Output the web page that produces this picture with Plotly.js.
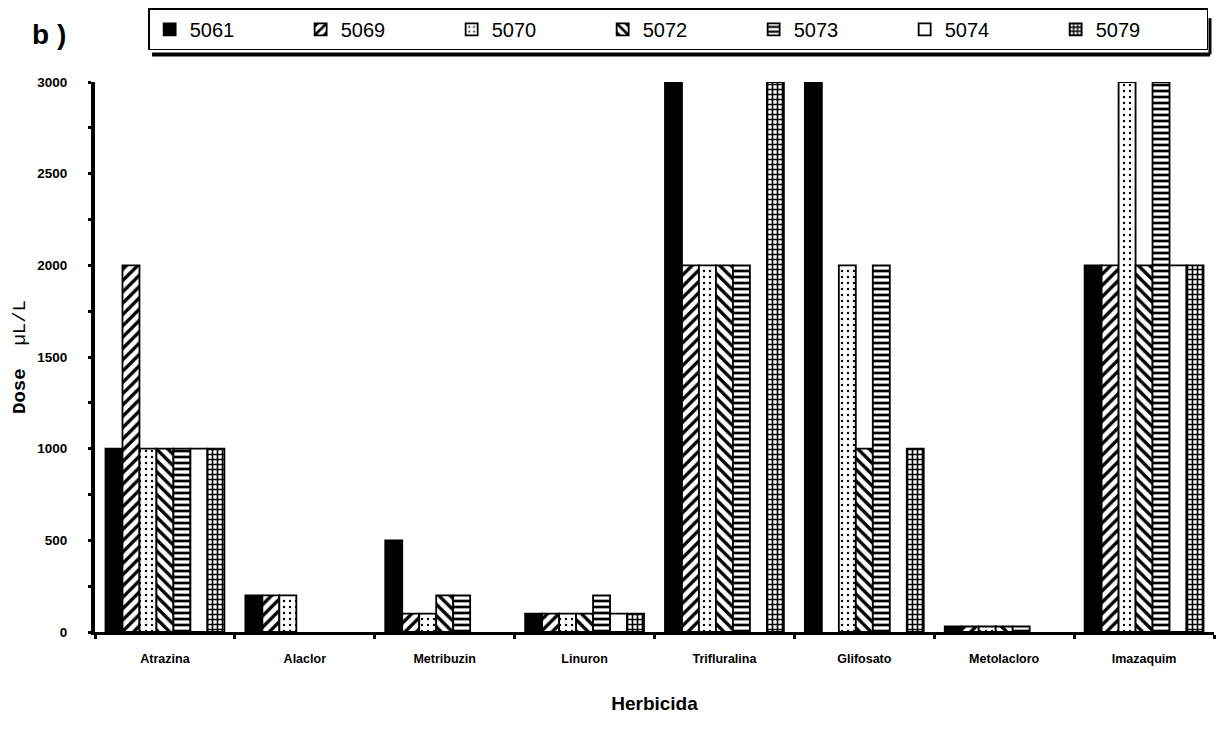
<!DOCTYPE html>
<html>
<head>
<meta charset="utf-8">
<script src="https://cdn.plot.ly/plotly-3.0.1.min.js"></script>
<style>html,body{margin:0;padding:0;background:#fff;}#chart{width:1222px;height:740px;}</style>
</head>
<body>
<div id="chart"></div>
<script>
const categories = ['Atrazina','Alaclor','Metribuzin','Linuron','Trifluralina','Glifosato','Metolacloro','Imazaquim'];
const seriesNames = ['5061','5069','5070','5072','5073','5074','5079'];
// null = no bar drawn for that herbicide/strain
const s5061 = [1000, 200, 500, 100, 3000, 3000, 30, 2000];
const s5069 = [2000, 200, 100, 100, 2000, null, 30, 2000];
const s5070 = [1000, 200, 100, 100, 2000, 2000, 30, 3000];
const s5072 = [1000, null, 200, 100, 2000, 1000, 30, 2000];
const s5073 = [1000, null, 200, 200, 2000, 2000, 30, 3000];
const s5074 = [1000, null, null, 100, null, null, null, 2000];
const s5079 = [1000, null, null, 100, 3000, 1000, null, 2000];
const yTicks = [0, 500, 1000, 1500, 2000, 2500, 3000];

const seriesValues = [s5061, s5069, s5070, s5072, s5073, s5074, s5079];
const patterns = [
  {shape: '', color: '#000'},
  {shape: '/', size: 8, solidity: 0.42, color: '#fff'},
  {shape: '.', size: 6, solidity: 0.12, color: '#fff'},
  {shape: '\\', size: 8, solidity: 0.42, color: '#fff'},
  {shape: '-', size: 6, solidity: 0.45, color: '#fff'},
  {shape: '', color: '#fff'},
  {shape: '+', size: 5, solidity: 0.55, color: '#fff'}
];

const traces = seriesNames.map((name, i) => {
  const p = patterns[i];
  const marker = {color: p.color, line: {color: '#000', width: 1.8}};
  if (p.shape) {
    marker.pattern = {shape: p.shape, size: p.size, solidity: p.solidity, fgcolor: '#000', bgcolor: '#fff', fillmode: 'replace'};
  }
  return {type: 'bar', name: name, x: categories, y: seriesValues[i], marker: marker};
});

const layout = {
  width: 1222, height: 740,
  margin: {l: 95, r: 8, t: 73, b: 108},
  paper_bgcolor: '#fff', plot_bgcolor: '#fff',
  barmode: 'group', bargap: 0.15, bargroupgap: 0,
  font: {family: 'Liberation Sans, Arial, sans-serif', color: '#000'},
  xaxis: {
    type: 'category', showline: true, linecolor: '#000', linewidth: 3,
    showgrid: false, zeroline: false,
    tickson: 'boundaries', ticks: 'outside', ticklen: 4, tickwidth: 3, tickcolor: '#000',
    ticklabelstandoff: 13,
    tickfont: {size: 12.5, family: 'Liberation Sans, Arial, sans-serif', weight: 'bold'},
    title: {text: '<b>Herbicida</b>', font: {size: 19, family: 'Liberation Sans, Arial, sans-serif'}, standoff: 32}
  },
  yaxis: {
    range: [0, 3000], showline: true, linecolor: '#000', linewidth: 4,
    showgrid: false, zeroline: false,
    tickvals: yTicks, ticks: 'outside', ticklen: 3, tickwidth: 3, tickcolor: '#000',
    minor: {dtick: 250, ticks: 'outside', ticklen: 3, tickwidth: 3, tickcolor: '#000'},
    ticklabelstandoff: 18,
    tickfont: {size: 13.5, family: 'Liberation Sans, Arial, sans-serif', weight: 'bold'},
    title: {text: '<b>Dose</b>  µL/L', font: {size: 19, family: 'Liberation Mono, Courier New, monospace'}, standoff: 8}
  },
  legend: {
    orientation: 'h', x: 0.0475, xanchor: 'left', y: 1.134, yanchor: 'top',
    entrywidth: 106, entrywidthmode: 'pixels',
    bordercolor: '#000', borderwidth: 1.5, bgcolor: '#fff',
    font: {size: 20, family: 'Liberation Sans, Arial, sans-serif'},
    traceorder: 'normal'
  },
  annotations: [{
    text: '<b>b )</b>', xref: 'paper', yref: 'paper', x: -0.058, y: 1.086,
    xanchor: 'left', yanchor: 'middle', showarrow: false,
    font: {size: 28, family: 'Liberation Sans, Arial, sans-serif'}
  }],
  shapes: [
    {type: 'line', xref: 'paper', yref: 'paper', x0: 0.051, x1: 0.9964, y0: 1.05, y1: 1.05, line: {color: '#000', width: 4}},
    {type: 'line', xref: 'paper', yref: 'paper', x0: 0.9964, x1: 0.9964, y0: 1.05, y1: 1.116, line: {color: '#000', width: 3}}
  ]
};

Plotly.newPlot('chart', traces, layout, {displayModeBar: false, staticPlot: true});
</script>
</body>
</html>
